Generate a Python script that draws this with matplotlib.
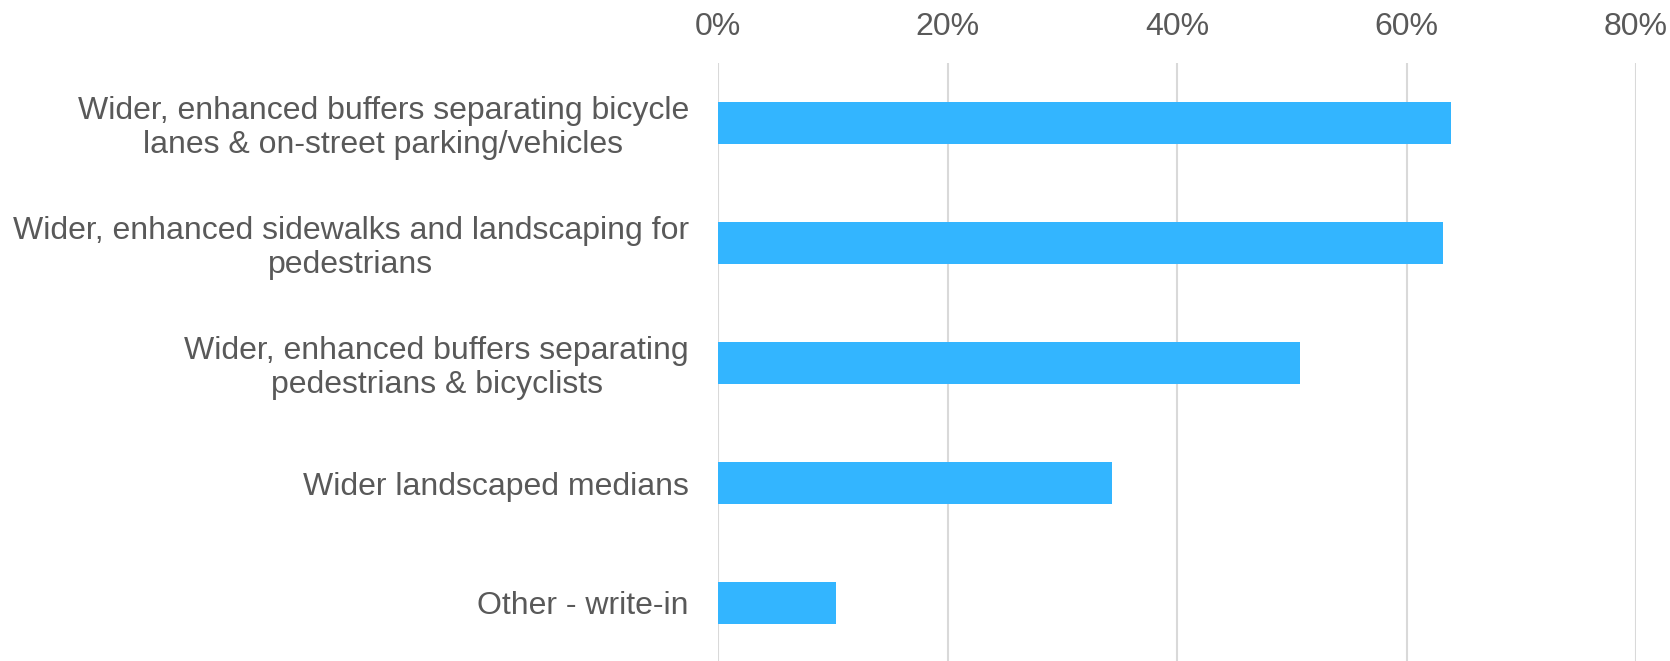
import matplotlib
matplotlib.use("Agg")
import matplotlib.pyplot as plt
from matplotlib.ticker import PercentFormatter

categories = [
    "Wider, enhanced buffers separating bicycle\nlanes & on-street parking/vehicles",
    "Wider, enhanced sidewalks and landscaping for\npedestrians",
    "Wider, enhanced buffers separating\npedestrians & bicyclists",
    "Wider landscaped medians",
    "Other - write-in",
]
shares = [63.85, 63.2, 50.75, 34.3, 10.3]
x_ticks = [0, 20, 40, 60, 80]

BAR = "#33B5FF"
TEXT = "#595959"
GRID = "#D9D9D9"

plt.rcParams["font.family"] = ["Liberation Sans", "DejaVu Sans"]

W, H = 1670, 661
fig = plt.figure(figsize=(W / 100, H / 100), dpi=100)
left, right, top, bottom = 718, 1636, 63, 663
ax = fig.add_axes([left / W, (H - bottom) / H, (right - left) / W, (bottom - top) / H])

ypos = list(range(len(categories)))
ax.barh(ypos, shares, height=0.35, color=BAR, zorder=3)

ax.set_xlim(0, 80)
ax.set_ylim(len(categories) - 0.5, -0.5)
ax.set_xticks(x_ticks)
ax.xaxis.set_major_formatter(PercentFormatter(decimals=0))
ax.xaxis.tick_top()
ax.set_yticks(ypos)
ax.set_yticklabels(categories)
for lbl in ax.get_yticklabels():
    lbl.set_multialignment("center")
    lbl.set_linespacing(1.15)

ax.tick_params(axis="x", length=0, pad=15, labelsize=23, labelcolor=TEXT)
ax.tick_params(axis="y", length=0, pad=21, labelsize=23, labelcolor=TEXT)
ax.grid(axis="x", color=GRID, linewidth=1.5, zorder=0)
for s in ax.spines.values():
    s.set_visible(False)

fig.savefig("out.png", dpi=100)
